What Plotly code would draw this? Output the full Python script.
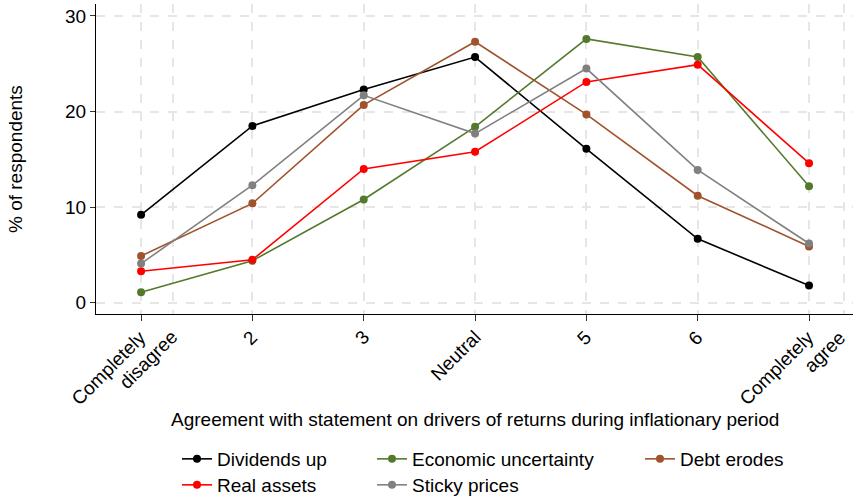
import plotly.graph_objects as go

categories = [1, 2, 3, 4, 5, 6, 7]
tick_labels = ["Completely\ndisagree", "2", "3", "Neutral", "5", "6", "Completely\nagree"]

dividends_up = [9.2, 18.5, 22.3, 25.7, 16.1, 6.7, 1.8]
economic_uncertainty = [1.1, 4.4, 10.8, 18.4, 27.6, 25.7, 12.2]
debt_erodes = [4.9, 10.4, 20.7, 27.3, 19.7, 11.2, 5.9]
real_assets = [3.3, 4.5, 14.0, 15.8, 23.1, 24.9, 14.6]
sticky_prices = [4.1, 12.3, 21.7, 17.7, 24.5, 13.9, 6.2]

y_ticks = [0, 10, 20, 30]
extra_x_grid = [1.29, 7.31]

series = [
    ("Dividends up", dividends_up, "#000000", "legend", 163, 459),
    ("Economic uncertainty", economic_uncertainty, "#537a2c", "legend2", 358, 459),
    ("Debt erodes", debt_erodes, "#a0522d", "legend3", 626, 459),
    ("Real assets", real_assets, "#ff0000", "legend4", 163, 485),
    ("Sticky prices", sticky_prices, "#808080", "legend5", 358, 485),
]

W, H = 853, 499
L, R, T, B = 96, 0, 4, 185
PW, PH = W - L - R, H - T - B
FONT = "Liberation Sans, Arial, Helvetica, sans-serif"
FS = 19

fig = go.Figure()
legends = {}
for name, vals, col, lg, lx, ly in series:
    fig.add_trace(go.Scatter(
        x=categories, y=vals, name=name, mode="lines+markers",
        line=dict(color=col, width=1.6),
        marker=dict(color=col, size=8),
        legend=lg,
    ))
    legends[lg] = dict(
        xref="container", yref="container",
        x=(lx + 14) / W, y=1 - ly / H,
        xanchor="left", yanchor="middle",
        bgcolor="rgba(0,0,0,0)",
        font=dict(family=FONT, size=FS, color="#000000"),
    )

annotations = [
    dict(text="Agreement with statement on drivers of returns during inflationary period",
         xref="paper", yref="paper", x=0.5, y=-(420 - (T + PH)) / PH,
         xanchor="center", yanchor="middle", showarrow=False,
         font=dict(family=FONT, size=FS, color="#000000")),
    dict(text="% of respondents",
         xref="paper", yref="paper", x=(15 - L) / PW, y=0.5,
         xanchor="center", yanchor="middle", showarrow=False, textangle=-90,
         font=dict(family=FONT, size=FS, color="#000000")),
]
# rotated category labels (each line rotated separately, as in the original)
label_top = -(325 - (T + PH)) / PH
for cat, lab in zip(categories, tick_labels):
    for i, part in enumerate(lab.split("\n")):
        annotations.append(dict(
            text=part, x=cat, xref="x", y=label_top, yref="paper",
            xanchor="right", yanchor="top", textangle=-45, showarrow=False,
            xshift=11 + 31 * i, borderpad=0,
            font=dict(family=FONT, size=FS, color="#000000"),
        ))

fig.update_layout(
    width=W, height=H,
    margin=dict(l=L, r=R, t=T, b=B, autoexpand=False),
    paper_bgcolor="white", plot_bgcolor="white",
    font=dict(family=FONT, size=FS, color="#000000"),
    showlegend=True,
    annotations=annotations,
    **legends,
)

fig.update_xaxes(
    range=[0.595, 7.395],
    tickmode="array", tickvals=categories, showticklabels=False,
    ticks="outside", ticklen=6, tickcolor="#333333", tickwidth=1,
    showline=True, linecolor="#000000", linewidth=1,
    showgrid=True, gridcolor="#e6e6e6", gridwidth=1.5, griddash="dash",
    minor=dict(tickmode="array", tickvals=extra_x_grid, showgrid=True, gridcolor="#e6e6e6",
               gridwidth=1.5, griddash="dash", ticks=""),
    zeroline=False, automargin=False,
)
fig.update_yaxes(
    range=[-1.17, 31.25],
    tickmode="array", tickvals=y_ticks,
    tickfont=dict(family=FONT, size=FS, color="#000000"),
    ticks="outside", ticklen=5, tickcolor="#333333", tickwidth=1,
    showline=True, linecolor="#000000", linewidth=1,
    showgrid=True, gridcolor="#e6e6e6", gridwidth=1.5, griddash="dash",
    zeroline=False, automargin=False,
)

fig.write_html("out.html", config={"displayModeBar": False},
               post_script="document.body.style.margin='0';")
